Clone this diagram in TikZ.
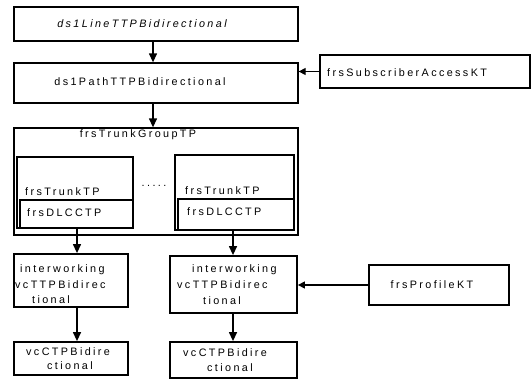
\documentclass[tikz,border=0pt]{standalone}
\usepackage{fontspec}
\newfontfamily\lblfont{Liberation Sans}[LetterSpace=22]
\usetikzlibrary{arrows.meta}
\begin{document}
\begin{tikzpicture}[x=1pt,y=-1pt,
  box/.style={draw, line width=1.3pt, inner sep=0pt},
  thickbox/.style={box, line width=1.8pt},
  lbl/.style={inner sep=0pt, font=\lblfont\fontsize{10.8}{12}\selectfont},
  arr/.style={line width=1.3pt, -{Triangle[length=9pt,width=8pt]}},
  sarr/.style={line width=1.3pt, -{Triangle[length=7pt,width=7pt]}}]
\useasboundingbox (0,0) rectangle (532,380);
% boxes
\node[box, minimum width=284pt, minimum height=34pt] (b1) at (156,24) {};
\node[box, minimum width=284pt, minimum height=40pt] (b2) at (156,83) {};
\node[box, minimum width=210pt, minimum height=33pt] (sub) at (425,71.5) {};
\node[box, minimum width=284pt, minimum height=107pt] (grp) at (156,181.5) {};
\node[box, minimum width=116pt, minimum height=71pt] (lt) at (75,192.5) {};
\node[box, minimum width=113pt, minimum height=28pt] (ldl) at (76.5,214) {};
\node[box, minimum width=119pt, minimum height=75pt] (rt) at (234.5,192.5) {};
\node[thickbox, minimum width=116pt, minimum height=31pt] (rdl) at (236,214.5) {};
\node[thickbox, minimum width=114pt, minimum height=53pt] (liw) at (71,280.5) {};
\node[thickbox, minimum width=114pt, minimum height=33pt] (lvc) at (71,358.5) {};
\node[thickbox, minimum width=127pt, minimum height=57pt] (riw) at (233.5,284.5) {};
\node[thickbox, minimum width=127pt, minimum height=36pt] (rvc) at (233.5,360) {};
\node[box, minimum width=140pt, minimum height=40pt] (prof) at (439,285) {};
% labels
\node[lbl, font=\lblfont\itshape\fontsize{10.8}{12}\selectfont] (t1) at (142,24) {ds1LineTTPBidirectional};
\node[lbl] (t2) at (140,82) {ds1PathTTPBidirectional};
\node[lbl, anchor=west] (tsub) at (327,73) {frsSubscriberAccessKT};
\node[lbl] (tgrp) at (138,135) {frsTrunkGroupTP};
\node[lbl, anchor=west] (tlt) at (25,192) {frsTrunkTP};
\node[lbl, anchor=west] (tldl) at (27,213) {frsDLCCTP};
\node[lbl, anchor=west] (trt) at (185,191) {frsTrunkTP};
\node[lbl, anchor=west] (trdl) at (187,212) {frsDLCCTP};
\node[lbl] (dots) at (154,186) {.....};
\node[lbl, anchor=west] (liw1) at (20,270) {interworking};
\node[lbl, anchor=west] (liw2) at (15,285) {vcTTPBidirec};
\node[lbl, anchor=west] (liw3) at (32,300) {tional};
\node[lbl, anchor=west] (riw1) at (192,270) {interworking};
\node[lbl, anchor=west] (riw2) at (177,285) {vcTTPBidirec};
\node[lbl, anchor=west] (riw3) at (203,301) {tional};
\node[lbl, anchor=west] (lvc1) at (26,352) {vcCTPBidire};
\node[lbl, anchor=west] (lvc2) at (47,366) {ctional};
\node[lbl, anchor=west] (rvc1) at (183,353) {vcCTPBidire};
\node[lbl, anchor=west] (rvc2) at (207,368) {ctional};
\node[lbl] (tprof) at (432,285) {frsProfileKT};
% connector columns
\coordinate (a1) at (153,0);
\coordinate (lx) at (77,0);
\coordinate (rx) at (233,0);
% connectors
\draw[arr] (b1.south -| a1) -- (b2.north -| a1);
\draw[arr] (b2.south -| a1) -- (grp.north -| a1);
\draw[sarr] (sub.west) -- (b2.east |- sub.west);
\draw[arr] (ldl.south -| lx) -- (liw.north -| lx);
\draw[arr] (liw.south -| lx) -- (lvc.north -| lx);
\draw[arr] (rdl.south -| rx) -- (riw.north -| rx);
\draw[arr] (riw.south -| rx) -- (rvc.north -| rx);
\draw[sarr] (prof.west) -- (riw.east |- prof.west);
\end{tikzpicture}
\end{document}
